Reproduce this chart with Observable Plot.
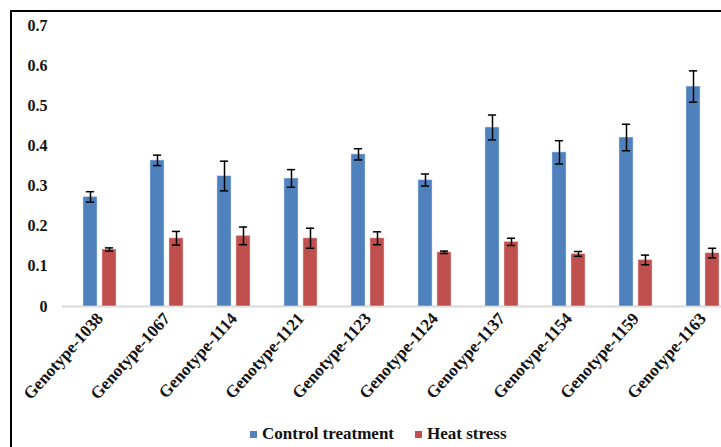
<!DOCTYPE html>
<html>
<head>
<meta charset="utf-8">
<script src="https://cdn.jsdelivr.net/npm/d3@7"></script>
<script src="https://cdn.jsdelivr.net/npm/@observablehq/plot@0.6"></script>
<style>
  html, body { margin: 0; padding: 0; background: #fff; overflow: hidden; }
  #vline { position: absolute; left: 10px; top: 10px; width: 2px; height: 460px; background: #000; }
  #hline { position: absolute; left: 10px; top: 10px; width: 760px; height: 2px; background: #000; }
  #chart { position: absolute; left: 0; top: 0; width: 750px; }
  #chart svg { max-width: none !important; }
  #legend { position: absolute; top: 424px; left: 250px; font-family: "Liberation Serif", "Times New Roman", serif; font-weight: bold; font-size: 17px; color: #111; white-space: nowrap; }
  #legend span.sw { display: inline-block; width: 7px; height: 7px; margin-right: 5px; vertical-align: 1px; }
</style>
</head>
<body>
<div id="vline"></div>
<div id="hline"></div>
<div id="chart"></div>
<div id="legend"><span class="sw" style="background:#4F81BD"></span>Control treatment<span style="display:inline-block;width:21px"></span><span class="sw" style="background:#C0504D"></span>Heat stress</div>
<script>
const genotypes = ["Genotype-1038","Genotype-1067","Genotype-1114","Genotype-1121","Genotype-1123","Genotype-1124","Genotype-1137","Genotype-1154","Genotype-1159","Genotype-1163"];
const controlValues = [0.273, 0.364, 0.325, 0.319, 0.379, 0.315, 0.446, 0.384, 0.421, 0.548];
const controlErrors = [0.013, 0.013, 0.037, 0.022, 0.014, 0.015, 0.031, 0.029, 0.033, 0.039];
const heatValues = [0.142, 0.170, 0.176, 0.170, 0.170, 0.135, 0.161, 0.131, 0.116, 0.133];
const heatErrors = [0.004, 0.017, 0.022, 0.025, 0.016, 0.003, 0.009, 0.006, 0.012, 0.012];
const yTicks = [0, 0.1, 0.2, 0.3, 0.4, 0.5, 0.6, 0.7];

const control = genotypes.map((g, i) => ({g, v: controlValues[i], e: controlErrors[i]}));
const heat = genotypes.map((g, i) => ({g, v: heatValues[i], e: heatErrors[i]}));

const barInset = 26.4;
const capInset = 29.4;
const off = 9.5;

function seriesMarks(data, color, dx) {
  return [
    Plot.barY(data, {x: "g", y: "v", fill: color, stroke: "#ffffff", strokeOpacity: 0.45, strokeWidth: 1, insetLeft: barInset, insetRight: barInset, dx}),
    Plot.ruleX(data, {x: "g", y1: d => d.v - d.e, y2: d => d.v + d.e, stroke: "#000", strokeWidth: 1.5, dx}),
    Plot.tickY(data, {x: "g", y: d => d.v + d.e, stroke: "#000", strokeWidth: 1.5, insetLeft: capInset, insetRight: capInset, dx}),
    Plot.tickY(data, {x: "g", y: d => d.v - d.e, stroke: "#000", strokeWidth: 1.5, insetLeft: capInset, insetRight: capInset, dx})
  ];
}

const chart = Plot.plot({
  width: 750,
  height: 410,
  marginLeft: 62,
  marginRight: 10,
  marginTop: 25,
  marginBottom: 104,
  style: {fontFamily: "'Liberation Serif', 'Times New Roman', serif", background: "transparent", color: "#111", maxWidth: "none"},
  x: {domain: genotypes, padding: 0},
  y: {domain: [0, 0.7]},
  marks: [
    Plot.ruleY([0], {stroke: "#d9d9d9", strokeWidth: 2}),
    ...seriesMarks(control, "#4F81BD", -off),
    ...seriesMarks(heat, "#C0504D", off),
    Plot.axisY({ticks: yTicks, tickSize: 0, tickPadding: 15, label: null, fontSize: 16, fontWeight: "bold", tickFormat: d => d === 0 ? "0" : d3.format(".1f")(d)}),
    Plot.axisX({tickSize: 0, tickPadding: 9, tickRotate: -48, label: null, fontSize: 17, fontWeight: "bold"})
  ]
});
chart.style.maxWidth = "none";
document.getElementById("chart").appendChild(chart);
</script>
</body>
</html>
